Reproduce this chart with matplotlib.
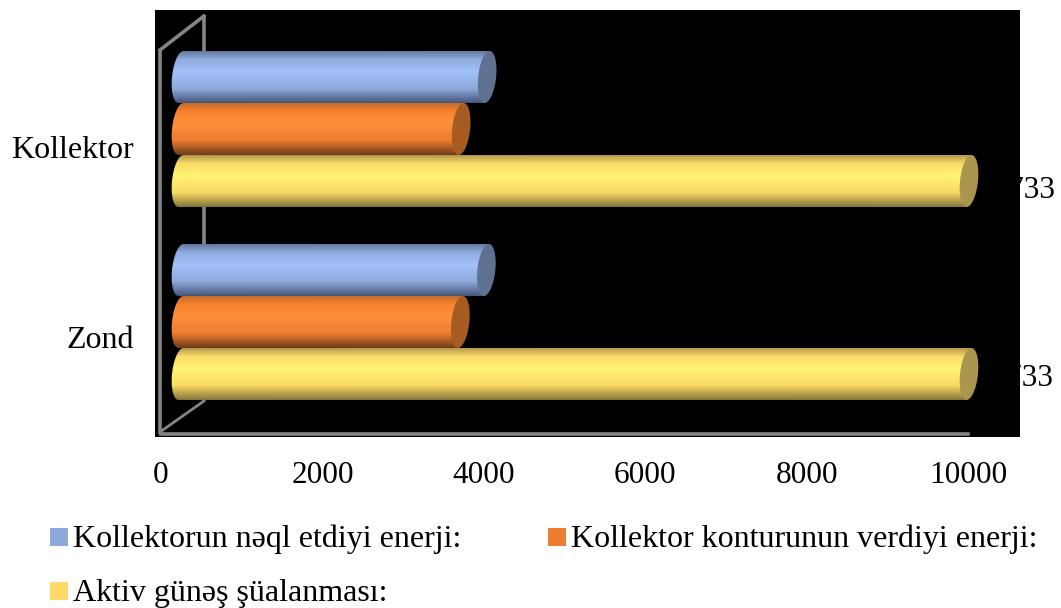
import numpy as np
import matplotlib
matplotlib.use("Agg")
from matplotlib import pyplot as plt
from matplotlib.colors import LinearSegmentedColormap
from matplotlib.lines import Line2D
from matplotlib.patches import Polygon, Rectangle

W, H = 1061, 608

categories = ["Zond", "Kollektor"]
series_names = ["Kollektorun nəql etdiyi enerji:",
                "Kollektor konturunun verdiyi enerji:",
                "Aktiv günəş şüalanması:"]
transferred = [3875, 3885]
released = [3545, 3555]
active = [10733, 10733]
x_ticks = [0, 2000, 4000, 6000, 8000, 10000]

XMAX = 10000
GREY = "#858585"
# top edge, shoulder, highlight, shoulder, bottom edge of each cylinder
RAMPS = [["#66799f", "#8fabdf", "#a3c2fa", "#8ea9dc", "#46567a"],
         ["#c56e2c", "#f8822f", "#ff8f3c", "#ec7c30", "#6f3c18"],
         ["#b49a4c", "#fbdc68", "#fff473", "#fad965", "#86763a"]]
CAPS = ["#5f7191", "#a65b20", "#ab9650"]
SWATCHES = ["#8eaadb", "#ed7d31", "#ffd966"]

plt.rcParams["font.family"] = ["Liberation Serif", "DejaVu Serif"]
FS = 22.5


def fx(x):
    return x / W


def fy(y):
    return 1 - y / H


def px_axes(left, right, top, bottom):
    return [fx(left), fy(bottom), (right - left) / W, (bottom - top) / H]


def wall(x0, y0, x1, y1, lw=2.6):
    fig.add_artist(Line2D([fx(x0), fx(x1)], [fy(y0), fy(y1)], color=GREY, lw=lw,
                          solid_capstyle="round", zorder=1))


def cylinder(ax, y, value, height, ramp, cap_color, z):
    # half axes of the end caps, with a small lean so the caps look tilted
    value = min(value, XMAX)
    a = 9 / BAR_SCALE
    b = height / 2
    lean = 2.5 / BAR_SCALE
    t = np.linspace(0, 2 * np.pi, 90)
    ex = a * np.cos(t) + lean * np.sin(t)
    ey = b * np.sin(t)

    left = t[(t >= np.pi / 2) & (t <= 3 * np.pi / 2)]
    lx = a * np.cos(left) + lean * np.sin(left)
    ly = y + b * np.sin(left)
    outline = np.column_stack([np.r_[lx, value - lean, value + lean],
                               np.r_[ly, y - b, y + b]])
    body = Polygon(outline, closed=True, transform=ax.transData, fc="none", ec="none")
    ax.add_patch(body)

    stops = [0, 0.16, 0.4, 0.72, 1]
    cmap = LinearSegmentedColormap.from_list("c", list(zip(stops, ramp)))
    grad = np.linspace(0, 1, 128).reshape(-1, 1)
    im = ax.imshow(grad, cmap=cmap, aspect="auto", zorder=z, interpolation="bilinear",
                   extent=[-2 * a, value + 2 * a, y - b, y + b], origin="upper")
    # the rounded ends stick out past the axes box
    im.set_clip_box(fig.bbox)
    im.set_clip_path(body)
    ax.add_patch(Polygon(np.column_stack([value + ex, y + ey]), closed=True, clip_on=False,
                         fc=cap_color, ec="none", zorder=z + 0.1))


fig = plt.figure(figsize=(W / 100, H / 100), dpi=100, facecolor="white")
fig.add_artist(Rectangle((fx(155), fy(437)), 865 / W, 427 / H, transform=fig.transFigure,
                         fc="black", ec="none", zorder=0))

# side walls and floor edge of the 3D box
wall(204, 16, 204, 400)
wall(160, 50, 204, 16)
wall(160, 432, 204, 401, lw=2)
wall(160, 50, 160, 433)

# bars live on the back-to-front centre plane of the box
BAR_LEFT, BAR_RIGHT = 181, 969
BAR_SCALE = (BAR_RIGHT - BAR_LEFT) / XMAX
ax = fig.add_axes(px_axes(BAR_LEFT, BAR_RIGHT, 10, 437), facecolor="none", zorder=2)
ax.set_axis_off()

group_px = 193
ylim = (-(437 - 322) / group_px, (322 - 10) / group_px)
bar_h = 52 / group_px
series = [transferred, released, active]
# yellow first so the shorter cylinders sit over it
for s in [2, 1, 0]:
    for i, v in enumerate(series[s]):
        y = i + (1 - s) * bar_h
        cylinder(ax, y, v, bar_h, RAMPS[s], CAPS[s], 3 + (2 - s))
ax.set_xlim(0, XMAX)
ax.set_ylim(*ylim)

# value labels run over the dark background, as the chart places them
label_dy = [5, 10]
label_dx = [84, 86]
for i, v in enumerate(active):
    ax.annotate(str(v), (XMAX, i - bar_h), xytext=(label_dx[i] * 0.72, -label_dy[i] * 0.72),
                textcoords="offset points", ha="right", va="center", fontsize=FS,
                color="black", annotation_clip=False, zorder=8)

# value axis is drawn on the front edge of the box
front = fig.add_axes(px_axes(161, 968, 433, 434), facecolor="none", zorder=3)
front.set_xlim(0, XMAX)
front.set_ylim(0, 1)
front.set_xticks(x_ticks)
front.set_xticklabels([str(t) for t in x_ticks], fontsize=FS)
front.set_yticks([])
front.tick_params(axis="x", length=0, pad=19.5)
for side in ["left", "right", "top"]:
    front.spines[side].set_visible(False)
front.spines["bottom"].set_color(GREY)
front.spines["bottom"].set_linewidth(2.6)

cat_y = [341, 150]
for name, y in zip(categories, cat_y):
    fig.text(fx(134), fy(y), name, ha="right", va="center", fontsize=23)

# legend laid out by hand in two rows
legend_pos = [(50, 528), (548, 528), (50, 582)]
for name, col, (x, y) in zip(series_names, SWATCHES, legend_pos):
    fig.add_artist(Rectangle((fx(x), fy(y + 18)), 17.5 / W, 18 / H, transform=fig.transFigure,
                             fc=col, ec="none"))
    fig.text(fx(x + 23), fy(y + 19), name, ha="left", va="baseline", fontsize=23)

fig.savefig("out.png", dpi=100, facecolor="white")
